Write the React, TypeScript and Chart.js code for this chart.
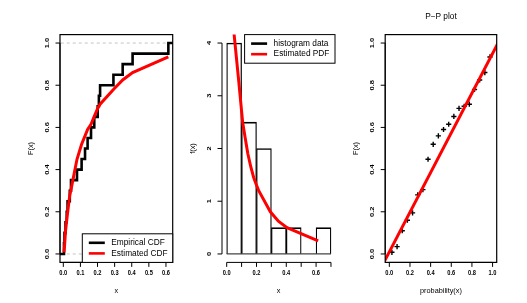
import React, { useEffect, useRef } from "react";
import { Chart, registerables } from "chart.js";
Chart.register(...registerables);

// ---- data ----
const sampleX = [0.004, 0.007, 0.013, 0.02, 0.025, 0.038, 0.045, 0.08, 0.107, 0.127, 0.142, 0.162, 0.181, 0.201, 0.208, 0.215, 0.293, 0.347, 0.405, 0.614];
const ecdfY = [0.05, 0.1, 0.15, 0.2, 0.25, 0.3, 0.35, 0.4, 0.45, 0.5, 0.55, 0.6, 0.65, 0.7, 0.75, 0.8, 0.85, 0.9, 0.95, 1.0];
const estCdf = [0.008, 0.035, 0.11, 0.16, 0.195, 0.28, 0.305, 0.449, 0.52, 0.56, 0.59, 0.615, 0.652, 0.69, 0.7, 0.71, 0.78, 0.825, 0.86, 0.934];
const estPdf = [12, 9.5, 7.5, 6.2, 5.6, 4.6, 4.3, 3.3, 2.5, 2.15, 1.9, 1.65, 1.45, 1.3, 1.25, 1.2, 0.8, 0.62, 0.5, 0.25];
const histMids = [0.05, 0.15, 0.25, 0.35, 0.45, 0.55, 0.65];
const histDensity = [4, 2.5, 2, 0.5, 0.5, 0, 0.5];
const ppProb = [0.025, 0.075, 0.125, 0.175, 0.225, 0.275, 0.325, 0.375, 0.425, 0.475, 0.525, 0.575, 0.625, 0.675, 0.725, 0.775, 0.825, 0.875, 0.925, 0.975];
const ppLineX = [-0.1, 1.1];
const ppLineY = [-0.084, 1.044];
const ecdfEdgeX = [-0.05, 0.7];
const refLevels = [0, 1];

const cdfXTicks = [0, 0.1, 0.2, 0.3, 0.4, 0.5, 0.6];
const cdfXLabels = ["0.0", "0.1", "0.2", "0.3", "0.4", "0.5", "0.6"];
const probTicks = [0, 0.2, 0.4, 0.6, 0.8, 1.0];
const probLabels = ["0.0", "0.2", "0.4", "0.6", "0.8", "1.0"];
const histXTicks = [0, 0.1, 0.2, 0.3, 0.4, 0.5, 0.6, 0.7];
const histXLabelVals = [0, 0.2, 0.4, 0.6];
const histXLabels = ["0.0", "0.2", "0.4", "0.6"];
const densTicks = [0, 1, 2, 3, 4];
const densLabels = ["0", "1", "2", "3", "4"];

const W = 527;
const H = 303;
const FONT = '"Liberation Sans", Arial, sans-serif';

function txt(ctx: CanvasRenderingContext2D, s: string, x: number, y: number, font: string, rot: boolean, sx: number, align: CanvasTextAlign = "center") {
  ctx.save();
  ctx.translate(x, y);
  ctx.scale(sx, 1);
  if (rot) ctx.rotate(-Math.PI / 2);
  ctx.font = font;
  ctx.fillStyle = "#000";
  ctx.textAlign = align;
  ctx.textBaseline = "middle";
  ctx.fillText(s, 0, 0);
  ctx.restore();
}

type AxCfg = {
  id: string;
  box: boolean;
  xTicks: number[];
  xLabelVals: number[];
  xLabels: string[];
  yTicks: number[];
  yLabels: string[];
  xTitle: string;
  yTitle: string;
  title?: string;
  baseline?: boolean;
  legend?: { pos: "br" | "tr"; items: { label: string; color: string }[] };
};

function rAxes(cfg: AxCfg) {
  return {
    id: cfg.id,
    afterDraw(chart: any) {
      const ctx: CanvasRenderingContext2D = chart.ctx;
      const a = chart.chartArea;
      const xs = chart.scales.x;
      const ys = chart.scales.y;
      ctx.save();
      ctx.strokeStyle = "#000";
      ctx.lineWidth = 1;
      if (cfg.baseline) {
        ctx.strokeStyle = "#444";
        ctx.lineWidth = 1.2;
        ctx.beginPath();
        ctx.moveTo(xs.getPixelForValue(cfg.xTicks[0]), ys.getPixelForValue(0));
        ctx.lineTo(xs.getPixelForValue(cfg.xTicks[cfg.xTicks.length - 1]), ys.getPixelForValue(0));
        ctx.stroke();
        ctx.strokeStyle = "#000";
        ctx.lineWidth = 1;
      }
      if (cfg.box) {
        ctx.lineWidth = 1.2;
        ctx.strokeRect(a.left, a.top, a.right - a.left, a.bottom - a.top);
        ctx.lineWidth = 1;
      }
      const xb = a.bottom;
      ctx.beginPath();
      ctx.moveTo(xs.getPixelForValue(cfg.xTicks[0]), xb);
      ctx.lineTo(xs.getPixelForValue(cfg.xTicks[cfg.xTicks.length - 1]), xb);
      for (const t of cfg.xTicks) {
        const px = xs.getPixelForValue(t);
        ctx.moveTo(px, xb);
        ctx.lineTo(px, xb + 4.5);
      }
      const yl = a.left;
      ctx.moveTo(yl, ys.getPixelForValue(cfg.yTicks[0]));
      ctx.lineTo(yl, ys.getPixelForValue(cfg.yTicks[cfg.yTicks.length - 1]));
      for (const t of cfg.yTicks) {
        const py = ys.getPixelForValue(t);
        ctx.moveTo(yl, py);
        ctx.lineTo(yl - 4.5, py);
      }
      ctx.stroke();
      const tf = "bold 7.5px " + FONT;
      cfg.xLabelVals.forEach((v, i) => txt(ctx, cfg.xLabels[i], xs.getPixelForValue(v), xb + 11, tf, false, 0.76));
      cfg.yTicks.forEach((v, i) => txt(ctx, cfg.yLabels[i], yl - 13, ys.getPixelForValue(v), tf, true, 0.76));
      const af = "7.3px " + FONT;
      txt(ctx, cfg.xTitle, (a.left + a.right) / 2, xb + 28.5, af, false, 1);
      txt(ctx, cfg.yTitle, yl - 29.5, (a.top + a.bottom) / 2, af, true, 1);
      if (cfg.title) txt(ctx, cfg.title, (a.left + a.right) / 2, 16.7, "8.3px " + FONT, false, 1);
      if (cfg.legend) {
        const lw = 90.4;
        const lh = 28.6;
        const lx = a.right - lw;
        const ly = cfg.legend.pos === "br" ? a.bottom - lh : a.top;
        ctx.fillStyle = "#fff";
        ctx.fillRect(lx, ly, lw, lh);
        ctx.lineWidth = 1;
        ctx.strokeStyle = "#000";
        ctx.strokeRect(lx, ly, lw, lh);
        cfg.legend.items.forEach((it, i) => {
          const ry = ly + 9 + i * 10.6;
          ctx.strokeStyle = it.color;
          ctx.lineWidth = 2.6;
          ctx.beginPath();
          ctx.moveTo(lx + 6.5, ry);
          ctx.lineTo(lx + 22.5, ry);
          ctx.stroke();
          txt(ctx, it.label, lx + 29, ry, "8.3px " + FONT, false, 1, "left");
        });
      }
      ctx.restore();
    },
  };
}

function pad(l: number, r: number, t: number, b: number) {
  return { left: l, right: W - r, top: t, bottom: H - b };
}

const TOP = 34.6;
const BOT = 262.4;

function baseOptions(padding: any, xmin: number, xmax: number, ymin: number, ymax: number) {
  return {
    responsive: false,
    animation: false as const,
    devicePixelRatio: 1,
    layout: { padding },
    scales: {
      x: { type: "linear" as const, display: false, min: xmin, max: xmax, offset: false },
      y: { type: "linear" as const, display: false, min: ymin, max: ymax },
    },
    plugins: { legend: { display: false }, tooltip: { enabled: false }, title: { display: false } },
  };
}

function makeCdf(): any {
  return {
    type: "line",
    data: {
      datasets: [
        {
          label: "Estimated CDF",
          data: sampleX.map((x, i) => ({ x, y: estCdf[i] })),
          borderColor: "#ff0000",
          borderWidth: 3,
          pointRadius: 0,
          tension: 0,
        },
        {
          label: "Empirical CDF",
          data: [{ x: ecdfEdgeX[0], y: refLevels[0] }, ...sampleX.map((x, i) => ({ x, y: ecdfY[i] })), { x: ecdfEdgeX[1], y: refLevels[1] }],
          stepped: "before",
          borderColor: "#000",
          borderWidth: 2.6,
          pointRadius: 0,
        },
        ...refLevels.map((lv) => ({
          data: ecdfEdgeX.map((x) => ({ x, y: lv })),
          borderColor: "#c4c4c4",
          borderDash: [3, 3],
          borderWidth: 1,
          pointRadius: 0,
        })),
      ],
    },
    options: baseOptions(pad(60, 172.7, TOP, BOT), -0.0193, 0.6394, -0.04, 1.04),
    plugins: [
      rAxes({
        id: "ax1",
        box: true,
        xTicks: cdfXTicks,
        xLabelVals: cdfXTicks,
        xLabels: cdfXLabels,
        yTicks: probTicks,
        yLabels: probLabels,
        xTitle: "x",
        yTitle: "F(x)",
        legend: { pos: "br", items: [{ label: "Empirical CDF", color: "#000" }, { label: "Estimated CDF", color: "#ff0000" }] },
      }),
    ],
  };
}

function makeHist(): any {
  return {
    type: "bar",
    data: {
      datasets: [
        {
          type: "line",
          label: "Estimated PDF",
          data: sampleX.map((x, i) => ({ x, y: estPdf[i] })),
          borderColor: "#ff0000",
          borderWidth: 3,
          pointRadius: 0,
          tension: 0,
        },
        {
          type: "bar",
          label: "histogram data",
          data: histMids.map((x, i) => ({ x, y: histDensity[i] })),
          backgroundColor: "rgba(0,0,0,0)",
          borderColor: "#000",
          borderWidth: { top: 1, left: 0.6, right: 0.6, bottom: 0 },
          borderSkipped: false,
          barPercentage: 1,
          categoryPercentage: 1,
        },
      ],
    },
    options: baseOptions(pad(222, 335, TOP, BOT), -0.0315, 0.727, -0.16, 4.16),
    plugins: [
      rAxes({
        id: "ax2",
        box: false,
        baseline: true,
        xTicks: histXTicks,
        xLabelVals: histXLabelVals,
        xLabels: histXLabels,
        yTicks: densTicks,
        yLabels: densLabels,
        xTitle: "x",
        yTitle: "f(x)",
        legend: { pos: "tr", items: [{ label: "histogram data", color: "#000" }, { label: "Estimated PDF", color: "#ff0000" }] },
      }),
    ],
  };
}

function makePP(): any {
  return {
    type: "scatter",
    data: {
      datasets: [
        {
          type: "line",
          data: ppLineX.map((x, i) => ({ x, y: ppLineY[i] })),
          borderColor: "#ff0000",
          borderWidth: 3,
          pointRadius: 0,
        },
        {
          data: ppProb.map((x, i) => ({ x, y: estCdf[i] })),
          pointStyle: "cross",
          pointRadius: 2.6,
          pointBorderWidth: 1.4,
          borderColor: "#000",
          backgroundColor: "#000",
          showLine: false,
        },
      ],
    },
    options: baseOptions(pad(385.2, 496.7, TOP, BOT), -0.04, 1.04, -0.04, 1.04),
    plugins: [
      rAxes({
        id: "ax3",
        box: true,
        xTicks: probTicks,
        xLabelVals: probTicks,
        xLabels: probLabels,
        yTicks: probTicks,
        yLabels: probLabels,
        xTitle: "probability(x)",
        yTitle: "F(x)",
        title: "P\u2212P plot",
      }),
    ],
  };
}

function Panel({ make }: { make: () => any }) {
  const ref = useRef<HTMLCanvasElement>(null);
  useEffect(() => {
    const chart = new Chart(ref.current as HTMLCanvasElement, make());
    return () => chart.destroy();
  }, []);
  return <canvas ref={ref} width={W} height={H} style={{ position: "absolute", left: 0, top: 0, width: W, height: H }} />;
}

export default function App() {
  return (
    <div style={{ position: "fixed", left: 0, top: 0, width: W, height: H, background: "#fff", overflow: "hidden" }}>
      <Panel make={makeCdf} />
      <Panel make={makeHist} />
      <Panel make={makePP} />
    </div>
  );
}
